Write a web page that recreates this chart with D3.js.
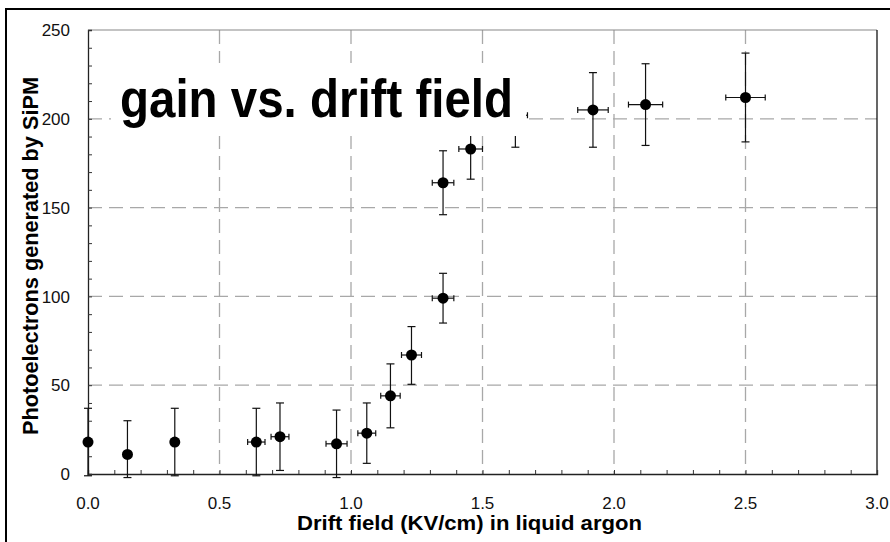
<!DOCTYPE html>
<html>
<head>
<meta charset="utf-8">
<script src="https://cdn.jsdelivr.net/npm/d3@7"></script>
<style>
  html, body { margin: 0; padding: 0; background: #fff; }
  svg { display: block; }
  text { font-family: "Liberation Sans", Arial, Helvetica, sans-serif; }
</style>
</head>
<body>
<svg id="chart" width="890" height="542"></svg>
<script>
// ---- data ----
const fieldKV        = [0.00, 0.15, 0.33, 0.64, 0.73, 0.945, 1.06, 1.15, 1.23, 1.35, 1.35, 1.455, 1.625, 1.92, 2.12, 2.50];
const photoelectrons = [18,   11,   18,   18,   21,   17,    23,   44,   67,   99,   164,  183,   202,   205,  208,  212];
const errLow         = [-1,   -2,   -1,   -1,   2,    -2,    6,    26,   50.5, 85,   146,  166,   184,   184,  185,  187];
const errHigh        = [37,   30,   37,   37,   40,   36,    40,   62,   83,   113,  182,  201,   220,   226,  231,  237];
const fieldErr       = [0,    0,    0,    0.033,0.034,0.04,  0.034,0.037,0.038,0.041,0.041,0.045, 0.046, 0.058,0.065,0.075];

const xTicks = [0, 0.5, 1.0, 1.5, 2.0, 2.5, 3.0];
const yTicks = [0, 50, 100, 150, 200, 250];
const titleText = "gain vs. drift field";
const xLabel = "Drift field (KV/cm) in liquid argon";
const yLabel = "Photoelectrons generated by SiPM";

const points = fieldKV.map((x, i) => ({
  x, y: photoelectrons[i], lo: errLow[i], hi: errHigh[i], xe: fieldErr[i]
}));

// ---- layout ----
const svg = d3.select("#chart");
const L = 88, R = 877, T = 30, B = 474;
const x = d3.scaleLinear().domain([0, 3]).range([L, R]);
const y = d3.scaleLinear().domain([0, 250]).range([B, T]);

// outer frame
svg.append("path")
  .attr("d", "M6,545 L6,9 L895,9")
  .attr("fill", "none").attr("stroke", "#000").attr("stroke-width", 2);

// gridlines
const grid = svg.append("g").attr("stroke", "#a8a8a8").attr("stroke-width", 1.3)
  .attr("stroke-dasharray", "14,7");
grid.selectAll(".gx").data(xTicks.filter(t => t > 0 && t < 3)).join("line")
  .attr("x1", d => x(d)).attr("x2", d => x(d)).attr("y1", T).attr("y2", B);
grid.selectAll(".gy").data(yTicks.filter(t => t > 0 && t < 250)).join("line")
  .attr("y1", d => y(d)).attr("y2", d => y(d)).attr("x1", L).attr("x2", R);

// plot frame (top gray, right black)
svg.append("line").attr("x1", L).attr("x2", R).attr("y1", T).attr("y2", T)
  .attr("stroke", "#888").attr("stroke-width", 1.2);
svg.append("line").attr("x1", R).attr("x2", R).attr("y1", T).attr("y2", B)
  .attr("stroke", "#000").attr("stroke-width", 1.2);

// x axis
const xAxis = svg.append("g").attr("transform", `translate(0,${B})`)
  .call(d3.axisBottom(x).tickValues(d3.range(0, 31).map(i => i / 10))
    .tickSize(-4).tickFormat(""));
xAxis.select(".domain").attr("stroke", "#222").attr("stroke-width", 1.3);
xAxis.selectAll(".tick line").attr("stroke", "#333");
svg.append("g").selectAll("text").data(xTicks).join("text")
  .attr("x", d => x(d)).attr("y", 509)
  .attr("text-anchor", "middle").attr("font-size", 17).attr("fill", "#111")
  .text(d => d3.format(".1f")(d));

// y axis
const yAxis = svg.append("g").attr("transform", `translate(${L},0)`)
  .call(d3.axisLeft(y).tickValues(d3.range(0, 251, 10)).tickSize(-4).tickFormat(""));
yAxis.select(".domain").attr("stroke", "#222").attr("stroke-width", 1.3);
yAxis.selectAll(".tick line").attr("stroke", "#333");
svg.append("g").selectAll("text").data(yTicks).join("text")
  .attr("x", 70).attr("y", d => y(d)).attr("dy", "0.36em")
  .attr("text-anchor", "end").attr("font-size", 17).attr("fill", "#111")
  .text(d => d);

// error bars
const eb = svg.append("g").attr("stroke", "#111").attr("stroke-width", 1.2);
points.forEach(p => {
  const cx = x(p.x), cy = y(p.y);
  eb.append("line").attr("x1", cx).attr("x2", cx).attr("y1", y(p.lo)).attr("y2", y(p.hi));
  eb.append("line").attr("x1", cx - 4).attr("x2", cx + 4).attr("y1", y(p.lo)).attr("y2", y(p.lo));
  eb.append("line").attr("x1", cx - 4).attr("x2", cx + 4).attr("y1", y(p.hi)).attr("y2", y(p.hi));
  if (p.xe > 0) {
    const x0 = x(p.x - p.xe), x1 = x(p.x + p.xe);
    eb.append("line").attr("x1", x0).attr("x2", x1).attr("y1", cy).attr("y2", cy);
    eb.append("line").attr("x1", x0).attr("x2", x0).attr("y1", cy - 3).attr("y2", cy + 3);
    eb.append("line").attr("x1", x1).attr("x2", x1).attr("y1", cy - 3).attr("y2", cy + 3);
  }
});

// markers
svg.append("g").selectAll("circle").data(points).join("circle")
  .attr("cx", d => x(d.x)).attr("cy", d => y(d.y)).attr("r", 5.5).attr("fill", "#000");

// title with white box (hides data beneath, as in reference)
svg.append("rect").attr("x", 111).attr("y", 63).attr("width", 415).attr("height", 73)
  .attr("fill", "#fff");
svg.append("text").attr("x", 120).attr("y", 117)
  .attr("font-size", 54).attr("font-weight", "bold").attr("fill", "#000")
  .attr("textLength", 393).attr("lengthAdjust", "spacingAndGlyphs")
  .text(titleText);

// axis labels
svg.append("text").attr("x", 297).attr("y", 530)
  .attr("font-size", 20.5).attr("font-weight", "bold").attr("fill", "#000")
  .attr("textLength", 345).attr("lengthAdjust", "spacingAndGlyphs")
  .text(xLabel);
svg.append("text").attr("transform", "translate(38,435) rotate(-90)")
  .attr("font-size", 22).attr("font-weight", "bold").attr("fill", "#000")
  .attr("textLength", 358).attr("lengthAdjust", "spacingAndGlyphs")
  .text(yLabel);
</script>
</body>
</html>
